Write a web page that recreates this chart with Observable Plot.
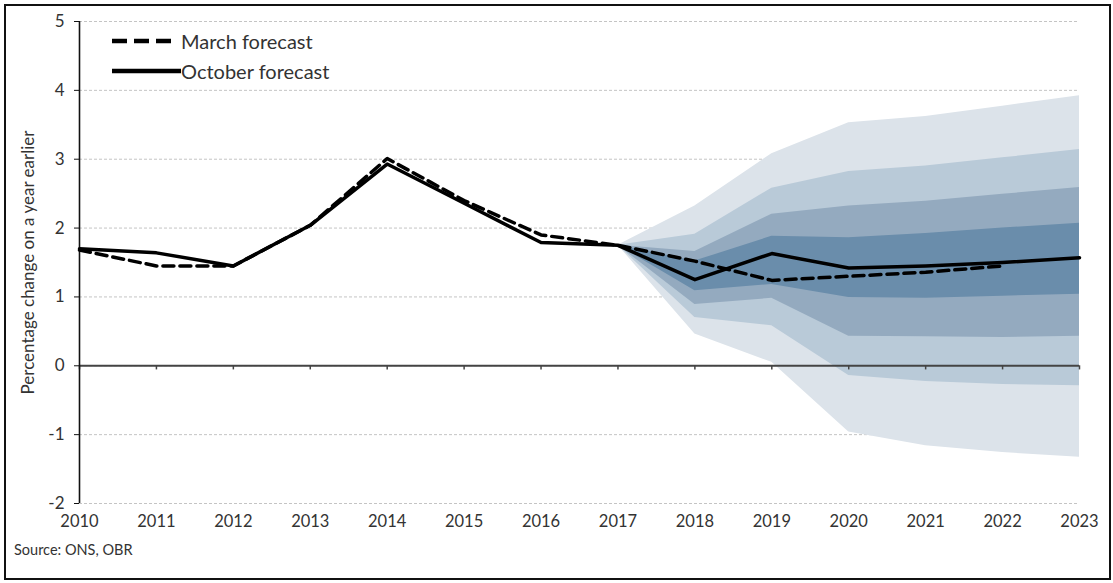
<!DOCTYPE html>
<html><head><meta charset="utf-8">
<script src="https://cdn.jsdelivr.net/npm/d3@7"></script>
<script src="https://cdn.jsdelivr.net/npm/@observablehq/plot@0.6"></script>
<style>
body{margin:0;background:#fff;font-family:Lato,"Open Sans",sans-serif;}
#wrap{position:relative;width:1113px;height:583px;overflow:hidden;background:#fff;}
#chart{position:absolute;left:0;top:0;}
#frame{position:absolute;left:4px;top:4px;width:1103px;height:572px;border:2.5px solid #111;pointer-events:none;}
.leg{position:absolute;left:112px;display:flex;align-items:center;font-size:20px;color:#333;white-space:nowrap;}
#source{position:absolute;left:14px;top:541px;font-size:14.5px;color:#333;}
</style></head><body>
<div id="wrap"><div id="chart"></div><div id="frame"></div><div id="legend"></div><div id="source">Source: ONS, OBR</div></div>
<script>
// ---- data ----
const years = [2010,2011,2012,2013,2014,2015,2016,2017,2018,2019,2020,2021,2022,2023];
const october = [1.70,1.64,1.45,2.04,2.93,2.36,1.79,1.75,1.25,1.63,1.42,1.45,1.50,1.57];
const marchYears = [2010,2011,2012,2013,2014,2015,2016,2017,2018,2019,2020,2021,2022];
const march = [1.68,1.45,1.45,2.04,3.01,2.40,1.90,1.75,1.52,1.24,1.30,1.36,1.45];

const fanYears = [2017,2018,2019,2020,2021,2022,2023];
const outerUpper = [1.75,2.32,3.08,3.53,3.62,3.77,3.92];
const outerLower = [1.75,0.46,0.05,-0.96,-1.16,-1.26,-1.33];
const secondUpper = [1.75,1.91,2.58,2.82,2.90,3.02,3.14];
const secondLower = [1.75,0.70,0.58,-0.14,-0.23,-0.27,-0.29];
const thirdUpper = [1.75,1.66,2.20,2.32,2.39,2.49,2.59];
const thirdLower = [1.75,0.89,0.98,0.43,0.42,0.41,0.43];
const innerUpper = [1.75,1.52,1.88,1.86,1.92,2.00,2.07];
const innerLower = [1.75,1.09,1.18,0.99,0.98,1.01,1.04];

const yTicks = [-2,-1,0,1,2,3,4,5];
const seriesNames = ["March forecast","October forecast"];
const bandColors = ["#dce3ea","#b9cad8","#94aabf","#6a8dab"];

// ---- build tables ----
const octData = years.map((x,i)=>({x, y: october[i]}));
const marData = marchYears.map((x,i)=>({x, y: march[i]}));
const bands = [[outerLower,outerUpper],[secondLower,secondUpper],[thirdLower,thirdUpper],[innerLower,innerUpper]]
  .map(([lo,hi]) => fanYears.map((x,i)=>({x, lo: lo[i], hi: hi[i]})));

const plot = Plot.plot({
  width: 1113,
  height: 535,
  marginLeft: 79,
  marginRight: 34,
  marginTop: 21,
  marginBottom: 32,
  style: {fontFamily: "Lato, 'Open Sans', sans-serif", fontSize: "16.5px", color: "#333", background: "transparent"},
  x: {domain: [2010, 2023]},
  y: {domain: [-2, 5]},
  marks: [
    Plot.gridY(yTicks, {stroke: "#c4c4c4", strokeOpacity: 1, strokeDasharray: "3,2", strokeWidth: 1}),
    ...bands.map((b, k) => Plot.areaY(b, {x: "x", y1: "lo", y2: "hi", fill: bandColors[k], curve: "linear"})),
    Plot.ruleY([0], {stroke: "#444", strokeWidth: 2}),
    Plot.ruleX(years, {x: d => d, y1: 0, y2: -0.06, stroke: "#444", strokeWidth: 1.5}),
    Plot.ruleX([2010], {stroke: "#111", strokeWidth: 1.6}),
    Plot.axisY(yTicks, {
      tickSize: 5, tickPadding: 10, tickFormat: d => String(d), stroke: "#111", fontSize: 17,
      label: "Percentage change on a year earlier", labelAnchor: "center", labelArrow: "none", labelOffset: 58
    }),
    Plot.axisX(years, {tickSize: 0, tickPadding: 12, tickFormat: d => String(d), label: null, fontSize: 16.5}),
    Plot.line(marData, {x: "x", y: "y", stroke: "#000", strokeWidth: 3.5, strokeDasharray: "11,6"}),
    Plot.line(octData, {x: "x", y: "y", stroke: "#000", strokeWidth: 3.5})
  ]
});
document.getElementById("chart").appendChild(plot);

// ---- legend ----
const legend = document.getElementById("legend");
const legendStyles = [{dash: "15,7", top: 28, len: 59, gap: 10}, {dash: null, top: 58, len: 69, gap: 0}];
seriesNames.forEach((name, i) => {
  const s = legendStyles[i];
  const div = document.createElement("div");
  div.className = "leg";
  div.style.top = s.top + "px";
  div.innerHTML = `<svg width="${s.len}" height="26" style="margin-right:${s.gap}px"><line x1="0" y1="13" x2="${s.len}" y2="13" stroke="#000" stroke-width="4.5" ${s.dash ? `stroke-dasharray="${s.dash}"` : ""}/></svg><span>${name}</span>`;
  legend.appendChild(div);
});
</script>
</body></html>
